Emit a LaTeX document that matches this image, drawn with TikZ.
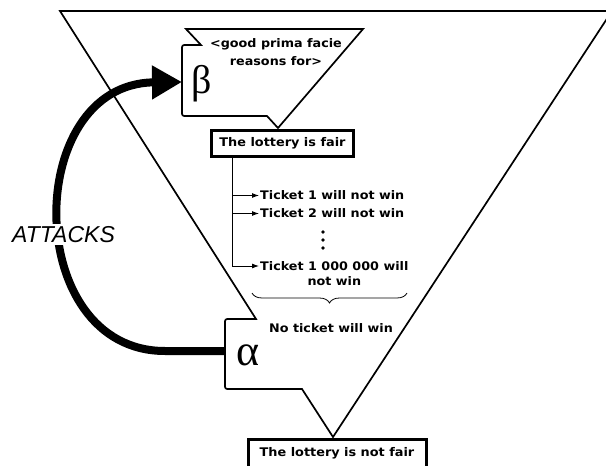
\documentclass[tikz,border=0pt]{standalone}
\usepackage{fontspec}
\newfontfamily\djv{DejaVu Sans}[FakeStretch=1.08]
\newfontfamily\lsans{Liberation Sans}
\newfontfamily\lserif{Liberation Serif}
\usetikzlibrary{arrows.meta,decorations.pathreplacing}
\begin{document}
\begin{tikzpicture}[x=1pt,y=-1pt,
  callout/.style={draw, line width=1.7pt, line join=miter, fill=white},
  lbl/.style={font=\djv\bfseries\fontsize{11.8}{15}\selectfont, inner sep=1pt},
  claim/.style={draw, line width=3pt, font=\djv\bfseries\fontsize{11.9}{15}\selectfont, inner sep=0pt},
  tick/.style={line width=0.9pt, -{Latex[length=7pt,width=5pt]}},
  attack/.style={line width=8pt, -{Triangle[length=30pt,width=32pt]}},
  greek/.style={inner sep=0pt, font=\lserif},
  bracestyle/.style={line width=0.8pt, decorate, decoration={brace, mirror, amplitude=10pt}},
]
\useasboundingbox (0,0) rectangle (606,466);
\clip (0,0) rectangle (606,466);
% alpha callout (large triangle with tab)
\draw[callout] (60,11) -- (256,319) -- (230,319) .. controls (225,319) .. (225,324)
  -- (225,384) .. controls (225,389) .. (230,389) -- (302,389) -- (333,437) -- (612,11) -- cycle;
% beta callout
\draw[callout] (186,29) -- (201,45) -- (187,45) .. controls (182,45) .. (182,50)
  -- (182,111) .. controls (182,116) .. (187,116) -- (267,116) -- (278,128) -- (363,29) -- cycle;
\node[greek, font=\lserif\fontsize{40}{40}\selectfont] (beta) at (202,84) {β};
\node[greek, font=\lserif\fontsize{44}{44}\selectfont] (alpha) at (248,355) {α};
\node[lbl, align=center, font=\djv\bfseries\fontsize{11.8}{18}\selectfont] (reasons) at (276,52.5) {<good prima facie\\reasons for>};
\node[claim, minimum width=142pt, minimum height=26pt] (fair) at (282.5,143.5) {The lottery is fair};
\coordinate (trunk) at (232,157);
\node[lbl, anchor=west] (t1) at (259,195.5) {Ticket 1 will not win};
\node[lbl, anchor=west] (t2) at (259,213.5) {Ticket 2 will not win};
\node[lbl, anchor=west, align=center] (tn) at (259,273.5) {Ticket 1 000 000 will\\not win};
\draw[tick] (trunk) |- (t1.west);
\draw[tick] (trunk) |- (t2.west);
\draw[tick] (trunk) |- ([yshift=7.5pt]tn.west);
\foreach \yy in {232,240,248} \fill (323,\yy) circle[radius=1.8pt];
\coordinate (bl) at (252,293);
\coordinate (br) at (407,293);
\draw[bracestyle] (bl) -- (br);
\node[lbl] (none) at (331,328) {No ticket will win};
\node[claim, anchor=base, text height=17pt, text depth=14pt, minimum width=178pt] (notfair) at (337,456.5) {The lottery is not fair};
% attack arrow
\coordinate (alphaTab) at (225,351);
\coordinate (betaTab) at (182,82);
\draw[attack] (alphaTab) -- (165,351) .. controls (22,351) and (22,84) .. (betaTab);
\node[font=\lsans\itshape\fontsize{23}{23}\selectfont, fill=white, inner sep=2pt] (att) at (63.5,234.5) {ATTACKS};
\end{tikzpicture}
\end{document}
